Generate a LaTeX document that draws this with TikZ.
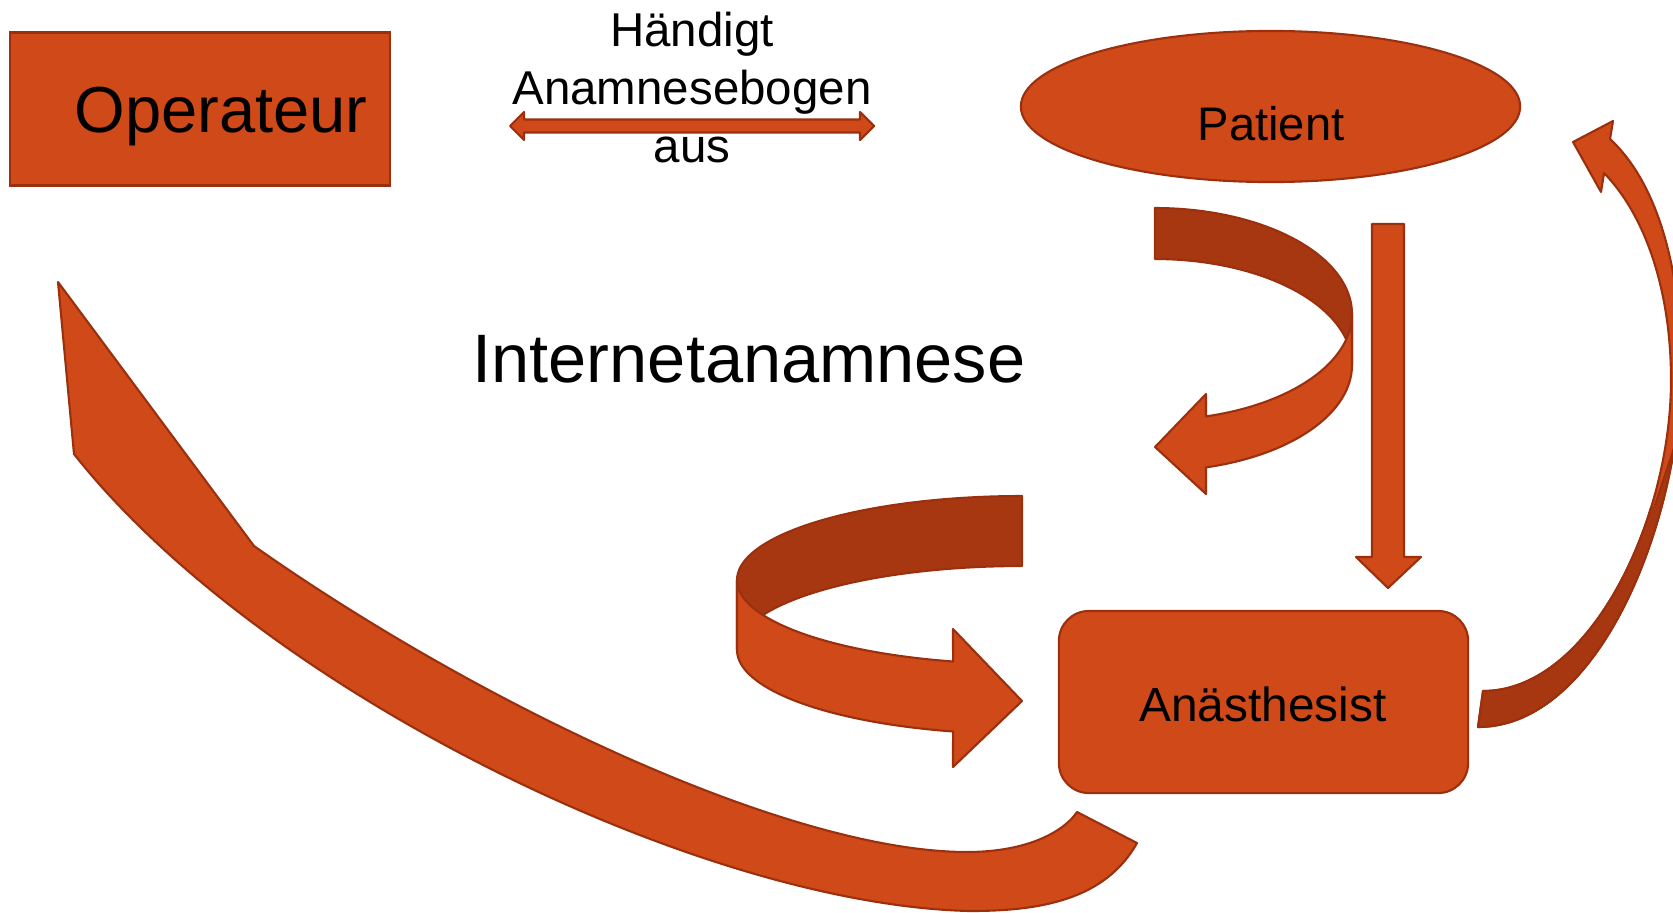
\documentclass[tikz,border=0pt]{standalone}
\usepackage{fontspec}
\setmainfont{Liberation Sans}
\usetikzlibrary{shapes.geometric}
\definecolor{lite}{RGB}{208,73,24}
\definecolor{deep}{RGB}{167,55,17}
\definecolor{edge}{RGB}{155,48,14}
\begin{document}
\begin{tikzpicture}[x=0.01cm, y=-0.01cm]
\tikzset{
  lightpart/.style={fill=lite, draw=edge, line width=0.6pt, line join=round},
  darkpart/.style={fill=deep, draw=edge, line width=0.6pt, line join=round},
  boxshape/.style={fill=lite, draw=edge, line width=0.6pt, inner sep=0pt},
  lbl/.style={anchor=base, inner sep=0pt, text=black},
}
\useasboundingbox (0,0) rectangle (1673,912);
\clip (0,0) rectangle (1673,912);

% main nodes
\node[boxshape, rectangle, minimum width=3.80cm, minimum height=1.53cm] (op) at (200,109) {};
\node[boxshape, ellipse, minimum width=4.99cm, minimum height=1.51cm] (pat) at (1270.5,106.5) {};
\node[boxshape, rectangle, rounded corners=0.3cm, minimum width=4.09cm, minimum height=1.82cm] (ana) at (1263.5,702) {};

% labels
\node[lbl, font=\fontsize{18.5}{22}\selectfont] (opt) at (221,132) {Operateur};
\node[lbl, font=\fontsize{13.4}{16}\selectfont] (patt) at (1271,140) {Patient};
\node[lbl, font=\fontsize{13.6}{16}\selectfont] (anat) at (1263,721) {Anästhesist};
\node[lbl, font=\fontsize{13.5}{16}\selectfont] (h1) at (692,46) {Händigt};
\node[lbl, font=\fontsize{13.5}{16}\selectfont] (h2) at (692,104) {Anamnesebogen};
\node[lbl, font=\fontsize{13.5}{16}\selectfont] (h3) at (692,162) {aus};
\node[lbl, font=\fontsize{19.5}{23}\selectfont] (inet) at (749,382) {Internetanamnese};

% double arrow
\draw[lightpart] (510,126) -- (524,112) -- (524,119.5) -- (860,119.5) -- (860,112) -- (874,126)
  -- (860,140) -- (860,132.5) -- (524,132.5) -- (524,140) -- cycle;

% straight down arrow Patient -> Anaesthesist
\draw[lightpart] (1372,224) -- (1404,224) -- (1404,557) -- (1421,557) -- (1388,588)
  -- (1356,557) -- (1372,557) -- cycle;

% top-right curled arrow
\draw[darkpart] plot[domain=-90:0, samples=40, variable=\t] ({1155+197*cos(\t)},{314+106*sin(\t)})
  -- plot[domain=0:-90, samples=40, variable=\t] ({1155+197*cos(\t)},{365+106*sin(\t)}) -- cycle;
\draw[lightpart] plot[domain=0:75, samples=40, variable=\t] ({1155+197*cos(\t)},{314+106*sin(\t)})
  -- (1206,394) -- (1155,447) -- (1206,494)
  -- plot[domain=75:0, samples=40, variable=\t] ({1155+197*cos(\t)},{365+106*sin(\t)}) -- cycle;

% middle curled arrow
\draw[darkpart] plot[domain=-90:-180, samples=40, variable=\t] ({1022+285*cos(\t)},{580+84*sin(\t)})
  -- plot[domain=-180:-90, samples=40, variable=\t] ({1022+285*cos(\t)},{650+84*sin(\t)}) -- cycle;
\draw[lightpart] plot[domain=180:104, samples=40, variable=\t] ({1022+285*cos(\t)},{580+84*sin(\t)})
  -- (953,629) -- (1022,701) -- (953,767)
  -- plot[domain=104:180, samples=40, variable=\t] ({1022+285*cos(\t)},{650+84*sin(\t)}) -- cycle;

% big left arrow Operateur -> Anaesthesist
\draw[lightpart] (58,282) -- (254,546)
  .. controls (480,705) and (790,852) .. (967,852)
  .. controls (1030,852) and (1065,830) .. (1077,812)
  -- (1137,843)
  .. controls (1105,900) and (1040,911) .. (970,911)
  .. controls (700,905) and (260,690) .. (74,454)
  -- cycle;

% right arc arrow Anaesthesist -> Patient
\def\rarrowpath{(1573,142) -- (1613,121) -- (1610,139)
  .. controls (1665,190) and (1682,290) .. (1681,370)
  .. controls (1680,520) and (1600,727) .. (1478,727)
  -- (1483,691)
  .. controls (1590,691) and (1671,520) .. (1671,380)
  .. controls (1671,290) and (1645,215) .. (1604,173)
  -- (1601,192) -- cycle}
\draw[lightpart] \rarrowpath;
\begin{scope}
  \clip (1440,780) -- (1440,600) -- (1655,505) -- (1690,400) -- (1700,400) -- (1700,780) -- cycle;
  \draw[darkpart] \rarrowpath;
\end{scope}
\begin{scope}
  \clip \rarrowpath;
  \draw[edge, line width=0.6pt] (1655,505) -- (1690,400);
\end{scope}
\end{tikzpicture}
\end{document}
